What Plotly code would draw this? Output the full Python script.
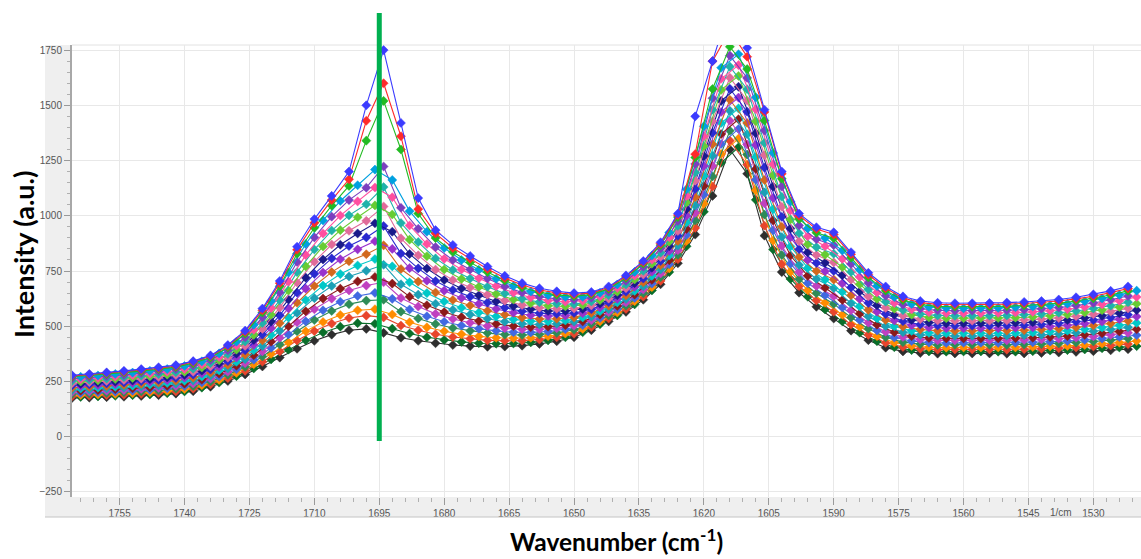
import plotly.graph_objects as go

# ---------------- data ----------------
# spectra sampled every 4 1/cm on two interleaved grids
wavenumber_a = list(range(1766, 1518, -4))  # 1766 ... 1522
wavenumber_b = list(range(1764, 1518, -4))  # 1764 ... 1520

s_000 = [175,177,179,181,184,188,195,206,226,252,
         282,318,358,398,434,462,482,488,470,448,
         434,423,415,410,407,408,412,420,432,450,
         482,522,565,620,690,785,915,1090,1300,1190,
         910,745,652,588,535,480,437,403,386,379,
         376,377,377,377,376,377,379,381,384,387,
         391,396]
s_008 = [183,186,188,190,194,198,205,217,237,265,
         298,339,386,435,478,512,537,548,540,503,
         482,464,451,443,436,434,435,440,450,466,
         496,535,578,634,705,803,945,1132,1340,1231,
         955,781,681,617,566,508,461,425,406,398,
         394,395,395,395,394,396,398,400,404,408,
         413,419]
s_017 = [193,195,198,201,205,209,217,229,250,280,
         316,363,417,477,528,569,600,616,620,566,
         535,510,492,479,469,462,460,463,470,484,
         511,549,593,650,722,823,979,1178,1385,1277,
         1005,822,713,649,601,540,489,450,428,419,
         415,416,416,416,415,417,419,422,426,431,
         437,444]
s_026 = [202,205,208,211,216,221,229,241,263,294,
         333,386,448,518,577,625,662,684,699,628,
         589,556,533,516,501,491,486,486,491,502,
         527,563,608,666,739,844,1013,1225,1430,1323,
         1056,863,745,682,636,572,516,475,451,440,
         436,436,436,436,436,438,440,443,448,454,
         461,470]
s_035 = [211,214,218,222,227,232,240,254,276,309,
         351,410,479,560,627,682,725,751,778,690,
         643,602,574,553,534,520,511,508,511,520,
         543,577,623,681,757,864,1046,1272,1475,1369,
         1106,904,777,714,672,604,544,500,473,461,
         457,456,456,457,457,459,461,465,470,477,
         485,495]
s_045 = [221,225,229,234,239,245,253,267,290,325,
         371,436,514,606,682,745,794,826,866,759,
         702,653,619,594,570,552,539,533,534,540,
         560,593,639,699,776,886,1084,1324,1525,1420,
         1162,950,813,750,711,640,574,528,498,485,
         480,479,479,480,480,482,485,489,495,503,
         512,524]
s_055 = [232,236,241,245,251,257,266,281,304,342,
         391,462,549,652,737,807,863,902,954,829,
         762,705,664,634,607,584,568,559,556,560,
         577,609,656,716,795,909,1121,1376,1575,1471,
         1218,995,849,786,750,675,605,555,523,508,
         503,502,502,502,503,505,508,513,520,528,
         539,552]
s_065 = [242,247,252,257,263,270,279,294,318,358,
         411,488,584,698,792,870,932,977,1042,898,
         821,756,709,675,643,616,596,584,579,580,
         594,625,672,734,814,931,1159,1428,1625,1522,
         1274,1041,885,822,789,711,635,583,548,532,
         526,525,525,525,526,528,532,537,545,554,
         566,581]
s_075 = [252,257,263,269,276,283,292,308,333,374,
         431,515,618,745,847,933,1002,1052,1130,967,
         881,807,755,716,679,648,624,609,602,600,
         612,641,689,751,833,954,1196,1480,1675,1573,
         1330,1086,921,858,828,746,666,611,573,555,
         549,547,547,548,549,552,555,561,569,580,
         593,609]
s_085 = [263,268,274,280,288,295,305,322,347,391,
         450,541,653,791,902,996,1071,1127,1223,1036,
         941,858,800,757,716,680,653,634,624,620,
         629,656,705,769,852,976,1234,1532,1725,1624,
         1386,1132,956,894,867,782,696,638,598,579,
         572,570,570,571,572,575,579,585,594,605,
         620,637]
s_093 = [271,277,283,290,297,305,315,332,358,404,
         466,562,681,828,946,1046,1135,1340,1520,1300,
         1010,899,836,789,745,706,675,654,642,636,
         643,669,718,783,867,994,1264,1574,1765,1664,
         1431,1168,985,923,898,810,721,661,618,598,
         590,588,588,589,591,594,598,604,614,626,
         641,660]
s_097 = [275,281,288,294,302,310,320,338,364,410,
         474,572,695,846,968,1071,1165,1430,1600,1360,
         1030,920,854,806,759,718,687,664,651,644,
         650,675,725,790,874,1003,1279,1700,1840,1720,
         1470,1190,1000,940,915,826,733,672,628,607,
         599,597,597,598,600,603,607,614,624,636,
         652,671]
s_100 = [278,284,291,298,306,314,324,342,368,415,
         480,580,705,860,985,1090,1200,1500,1750,1420,
         1080,935,868,818,770,728,695,672,658,650,
         655,680,730,795,880,1010,1450,1700,1950,1760,
         1480,1200,1010,948,925,835,742,680,635,614,
         606,604,604,605,607,610,614,621,631,644,
         660,680]

t_04 = [180,182,185,188,191,197,205,222,245,274,
        309,350,394,436,472,498,514,511,489,467,
        450,438,429,423,421,422,427,436,450,473,
        509,549,599,662,745,862,1018,1240,1310,1072,
        847,714,634,576,522,471,432,405,392,386,
        385,386,386,385,385,387,390,392,395,400,
        404,410]
t_12 = [189,191,194,197,201,207,216,233,257,289,
        328,375,427,477,519,551,572,577,553,518,
        495,477,464,454,448,446,448,455,467,488,
        522,562,613,677,762,886,1054,1280,1349,1115,
        888,747,663,606,552,498,455,426,411,405,
        403,404,404,404,404,406,409,411,415,421,
        426,433]
t_21 = [198,201,204,208,212,219,228,245,271,305,
        348,402,463,522,572,611,637,651,624,576,
        545,520,503,489,479,473,472,476,486,505,
        537,577,628,693,781,913,1095,1325,1393,1163,
        934,783,695,640,585,528,481,449,433,426,
        424,425,425,424,425,427,430,433,438,444,
        451,459]
t_30 = [208,211,215,219,223,230,240,258,285,321,
        369,430,500,568,625,670,703,723,693,634,
        595,564,541,524,510,501,496,498,505,522,
        552,592,643,710,799,940,1135,1370,1437,1212,
        979,820,728,674,619,557,507,473,455,447,
        445,445,445,445,446,448,451,455,461,468,
        476,486]
t_40 = [218,222,226,231,236,243,253,272,300,339,
        392,460,540,619,684,736,775,804,771,699,
        650,612,584,562,544,531,523,522,526,540,
        568,608,660,728,820,970,1180,1420,1486,1266,
        1030,861,764,711,656,590,536,500,479,470,
        468,468,468,468,469,472,475,480,486,494,
        504,515]
t_50 = [229,233,238,243,248,256,267,286,316,358,
        415,491,581,670,743,803,848,885,850,763,
        706,661,628,601,578,561,550,546,548,559,
        585,624,678,747,841,1000,1225,1470,1535,1320,
        1081,902,800,749,694,624,566,526,504,494,
        491,491,491,491,493,495,499,504,512,521,
        532,544]
t_60 = [239,244,249,254,260,268,280,299,331,376,
        438,521,621,720,802,869,920,966,928,827,
        761,709,671,640,612,591,577,569,569,578,
        602,640,695,765,862,1030,1270,1520,1584,1374,
        1132,942,835,787,731,657,595,552,528,517,
        513,513,514,514,516,518,523,528,537,547,
        559,573]
t_70 = [250,255,261,266,273,281,293,313,346,394,
        461,552,662,771,861,935,993,1047,1006,892,
        817,757,714,678,646,621,604,593,590,596,
        618,656,712,783,883,1060,1315,1570,1633,1428,
        1183,983,871,824,768,690,624,579,552,540,
        536,536,537,537,539,542,547,553,562,573,
        587,602]
t_80 = [260,266,272,278,285,294,306,327,361,412,
        484,582,702,822,920,1001,1065,1128,1084,956,
        872,805,757,717,681,652,630,617,611,615,
        635,673,729,801,903,1090,1360,1620,1682,1482,
        1233,1024,907,862,805,723,653,605,576,563,
        559,559,559,560,562,565,570,577,587,599,
        615,632]
t_90 = [271,277,284,290,298,306,320,341,377,430,
        507,613,743,872,979,1067,1138,1209,1162,1021,
        928,854,800,755,715,682,657,641,633,633,
        651,689,746,820,924,1120,1405,1670,1731,1536,
        1284,1064,943,899,843,756,682,632,601,587,
        582,581,582,583,586,589,594,602,613,626,
        642,661]

colors_a = ['#2e2e2e', '#e8452c', '#2e8b57', '#c040c0', '#1c9fb5', '#d2691e',
            '#2a2ad0', '#e06b9a', '#20b2aa', '#7b3fbf', '#22bb22', '#ff2a2a', '#3b3bff']
colors_b = ['#0a6e2a', '#ff8c00', '#4169e1', '#8b1a1a', '#00c8c8', '#9932cc',
            '#1a1a8a', '#66cc33', '#ff4fa0', '#00a0e0']

x_ticks = list(range(1755, 1529, -15))
y_ticks = list(range(-250, 1751, 250))
marker_wavenumber = 1695

# ---------------- figure ----------------
W, H = 1141, 559
ML, MR, MT, MB = 72, 0, 45, 62
pw, ph = W - ML - MR, H - MT - MB

fig = go.Figure()


def add_spec(x, vals, c):
    fig.add_trace(go.Scatter(
        x=x, y=vals, mode='lines+markers',
        line=dict(color=c, width=1.1),
        marker=dict(symbol='diamond', size=7, color=c,
                    line=dict(color=c, width=0.5)),
        showlegend=False, hoverinfo='skip'))


# interleave both families from bottom to top
order = [(wavenumber_a, s_000, colors_a[0]), (wavenumber_b, t_04, colors_b[0]),
         (wavenumber_a, s_008, colors_a[1]), (wavenumber_b, t_12, colors_b[1]),
         (wavenumber_a, s_017, colors_a[2]), (wavenumber_b, t_21, colors_b[2]),
         (wavenumber_a, s_026, colors_a[3]), (wavenumber_b, t_30, colors_b[3]),
         (wavenumber_a, s_035, colors_a[4]), (wavenumber_b, t_40, colors_b[4]),
         (wavenumber_a, s_045, colors_a[5]), (wavenumber_b, t_50, colors_b[5]),
         (wavenumber_a, s_055, colors_a[6]), (wavenumber_b, t_60, colors_b[6]),
         (wavenumber_a, s_065, colors_a[7]), (wavenumber_b, t_70, colors_b[7]),
         (wavenumber_a, s_075, colors_a[8]), (wavenumber_b, t_80, colors_b[8]),
         (wavenumber_a, s_085, colors_a[9]), (wavenumber_b, t_90, colors_b[9]),
         (wavenumber_a, s_093, colors_a[10]), (wavenumber_a, s_097, colors_a[11]),
         (wavenumber_a, s_100, colors_a[12])]
for x, vals, c in order:
    add_spec(x, vals, c)

tickfont = dict(family='Liberation Sans, Arial', size=10, color='#555555')

fig.update_layout(
    width=W, height=H,
    margin=dict(l=ML, r=MR, t=MT, b=MB),
    paper_bgcolor='white', plot_bgcolor='white',
    xaxis=dict(range=[1766, 1519], tickmode='array', tickvals=x_ticks,
               ticks='outside', ticklen=7, tickcolor='#9a9a9a', tickwidth=1,
               tickfont=tickfont, showgrid=True, gridcolor='#e8e8e8', gridwidth=1,
               zeroline=False, showline=False,
               minor=dict(tick0=1755, dtick=3, ticks='outside', ticklen=4,
                          tickcolor='#b0b0b0', showgrid=False)),
    yaxis=dict(range=[-273, 1773], tickmode='array', tickvals=y_ticks,
               ticks='outside', ticklen=6, tickcolor='#9a9a9a', tickwidth=1,
               tickfont=tickfont, showgrid=True, gridcolor='#e8e8e8', gridwidth=1,
               zeroline=False, showline=True, linecolor='#a8a8a8', linewidth=2,
               minor=dict(tick0=0, dtick=50, ticks='outside', ticklen=3,
                          tickcolor='#b0b0b0', showgrid=False)),
)

band_left = -27 / pw
band_bottom = -20 / ph
fig.add_shape(type='rect', xref='paper', yref='paper', x0=band_left, x1=0,
              y0=band_bottom, y1=1, fillcolor='#efefef', line_width=0, layer='below')
fig.add_shape(type='rect', xref='paper', yref='paper', x0=band_left, x1=1,
              y0=band_bottom, y1=0, fillcolor='#efefef', line_width=0, layer='below')
fig.add_shape(type='line', xref='paper', yref='paper', x0=band_left, x1=1,
              y0=band_bottom, y1=band_bottom, line=dict(color='#c4c4c4', width=1))
fig.add_shape(type='line', xref='paper', yref='paper', x0=0, x1=1,
              y0=1, y1=1, line=dict(color='#e2e2e2', width=1), layer='below')

# green marker line at 1695 1/cm
fig.add_shape(type='line', xref='x', yref='paper',
              x0=marker_wavenumber, x1=marker_wavenumber,
              y0=(MT + ph - 441) / ph, y1=(MT + ph - 13) / ph,
              line=dict(color='#00b050', width=5), layer='above')

fig.add_annotation(text='1/cm', xref='x', yref='paper', x=1537.5, y=-15 / ph,
                   showarrow=False, font=tickfont, xanchor='center', yanchor='middle')

fig.add_annotation(text='<b>Intensity (a.u.)</b>', xref='paper', yref='paper',
                   x=(24 - ML) / pw, y=(MT + ph - 255) / ph, textangle=-90,
                   showarrow=False,
                   font=dict(family='Lato, Open Sans, sans-serif', size=27, color='#000000'),
                   xanchor='center', yanchor='middle')
fig.add_annotation(text='<b>Wavenumber (cm<sup>-1</sup>)</b>', xref='paper', yref='paper',
                   x=(616 - ML) / pw, y=-(540 - MT - ph) / ph,
                   showarrow=False,
                   font=dict(family='Lato, Open Sans, sans-serif', size=24.5, color='#000000'),
                   xanchor='center', yanchor='middle')

fig.write_html('out.html')
